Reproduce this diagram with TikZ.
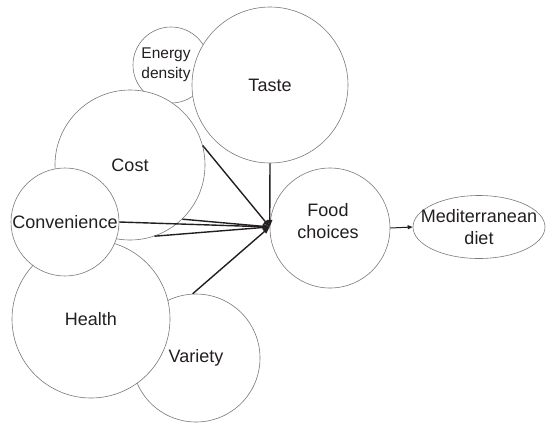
\documentclass[tikz,border=0pt]{standalone}
\usepackage{fontspec}
\setmainfont{Liberation Sans}
\usetikzlibrary{arrows.meta,shapes.geometric}
\definecolor{ink}{HTML}{231F20}
\definecolor{rim}{HTML}{7A7A7A}

\begin{document}
\begin{tikzpicture}[x=1pt,y=-1pt,
  texte/.style={text=ink,align=center,inner sep=0pt,font=\fontsize{18}{21.5}\selectfont},
  facteur/.style={circle,draw=rim,line width=0.6pt,fill=white,inner sep=0pt,texte},
  lien/.style={draw=ink,line width=1.4pt,-{Triangle[length=7pt,width=5pt]}}]
\useasboundingbox (0,0) rectangle (546,424);
% les cercles du fond d'abord, ceux qui recouvrent ensuite
\node[facteur,minimum size=76pt,
  label={[texte,xshift=-5pt,font=\fontsize{15.5}{20}\selectfont]center:{Energy\\density}}] (energy) at (171,65) {};
\node[facteur,minimum size=150pt] (cost) at (130,165) {Cost};
\node[facteur,minimum size=156pt] (taste) at (270,85) {Taste};
\node[facteur,minimum size=128pt] (variety) at (196,358) {Variety};
\node[facteur,minimum size=158pt] (health) at (91,319) {Health};
\node[facteur,minimum size=108pt] (conv) at (65,222) {Convenience};
\node[facteur,minimum size=120pt,
  label={[texte,xshift=-2pt,yshift=7pt]center:{Food\\choices}}] (food) at (330,228) {};
\node[facteur,ellipse,inner xsep=-20pt,inner ysep=-15pt,minimum width=132pt,minimum height=63pt] (med) at (479,227) {Mediterranean\\diet};
% les liens vers Food choices
\draw[lien] (taste.south) -- (food.179);
\draw[lien] (cost.15) -- (food.179);
\draw[lien] (cost.-46) -- (food.179);
\draw[lien] (cost.-71) -- (food.179);
\draw[lien] (conv.east) -- (food.179);
\draw[lien] (variety.93) -- (food.179);
\draw[lien,line width=1pt,-{Triangle[length=5pt,width=4pt]}] (food.east) -- (med.west);
\end{tikzpicture}
\end{document}
